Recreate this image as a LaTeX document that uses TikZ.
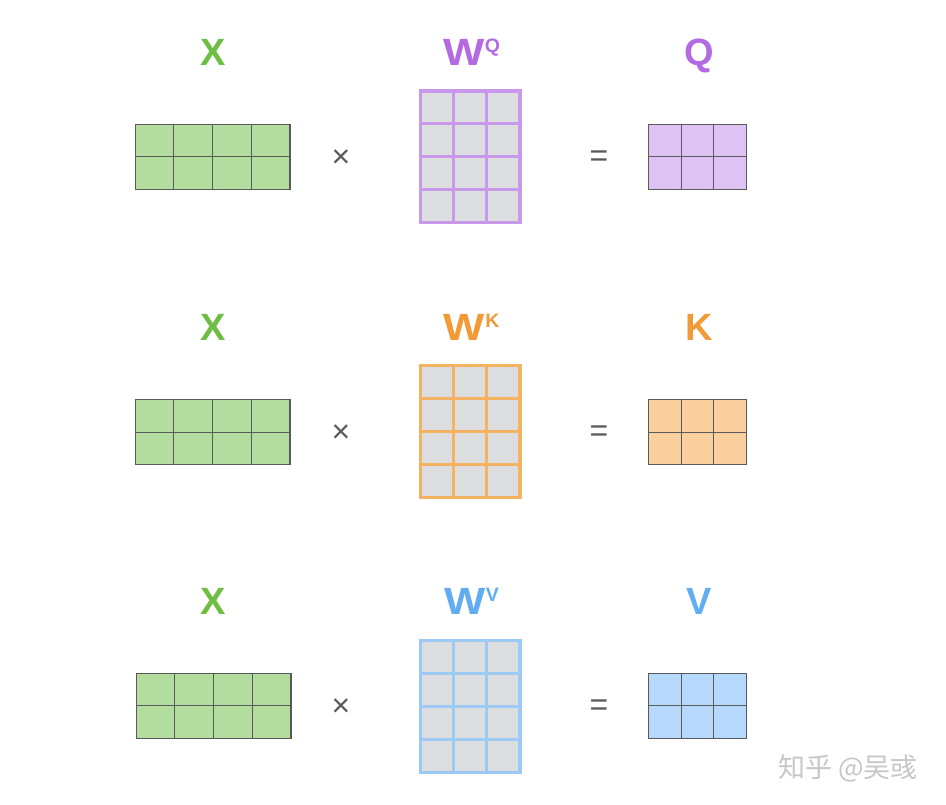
\documentclass[tikz,border=0pt]{standalone}
\usepackage{fontspec}
\setmainfont{Liberation Sans}
\newfontfamily\cjk{Noto Sans CJK SC}
\usepackage{tikz}
\definecolor{xlab}{HTML}{6EBE44}
\definecolor{xfill}{HTML}{B2DD9F}
\definecolor{qlab}{HTML}{B36AE2}
\definecolor{qline}{HTML}{C898EA}
\definecolor{qfill}{HTML}{DEC2F3}
\definecolor{klab}{HTML}{F29A38}
\definecolor{kline}{HTML}{F5B362}
\definecolor{kfill}{HTML}{FAD09E}
\definecolor{vlab}{HTML}{62ACF2}
\definecolor{vline}{HTML}{9CCAF4}
\definecolor{vfill}{HTML}{B6D8FA}
\definecolor{cellgray}{HTML}{DCDDDE}
\definecolor{dark}{HTML}{5A5A5A}
\newcommand{\wsup}[1]{\scalebox{1.15}[1]{W}\kern0.5pt\raisebox{13pt}{\fontsize{19.5}{20}\selectfont #1}}

\begin{document}
\begin{tikzpicture}[x=1pt, y=1pt,
	lab/.style={inner sep=0, anchor=base, font=\fontsize{38}{40}\selectfont\bfseries},
	op/.style={inner sep=0, text=dark, font=\fontsize{32}{34}\selectfont},
	mat/.style={inner sep=0, outer sep=0, draw=dark, line width=1pt},
	xmat/.style={mat, fill=xfill, minimum width=155pt, minimum height=65pt},
	wmat/.style={mat, fill=cellgray, line width=3pt, minimum width=100pt, minimum height=132pt},
	omat/.style={mat, minimum width=98pt, minimum height=65pt}]
	\useasboundingbox[fill=white] (0,0) rectangle (946,-805);
	% row Q
	\node[lab, text=xlab] at (213,-65.5) (xq) {X};
	\node[lab, text=qlab] at (471.5,-65.5) (wq) {\wsup{Q}};
	\node[lab, text=qlab] at (699,-65.5) (q) {Q};
	\node[xmat] at (212.5,-157) (xqm) {};
	\node[wmat, draw=qline] at (470,-157) (wqm) {};
	\node[omat, fill=qfill] at (697.5,-157) (qm) {};
	\node[op] at (341,-159) (tq) {×};
	\node[op] at (599,-159) (eq) {=};
	% row K
	\node[lab, text=xlab] at (213,-340.5) (xk) {X};
	\node[lab, text=klab] at (471.5,-340.5) (wk) {\wsup{K}};
	\node[lab, text=klab] at (699,-340.5) (k) {K};
	\node[xmat] at (212.5,-432) (xkm) {};
	\node[wmat, draw=kline] at (470,-431) (wkm) {};
	\node[omat, fill=kfill] at (697.5,-432) (km) {};
	\node[op] at (341,-434) (tk) {×};
	\node[op] at (599,-434) (ek) {=};
	% row V
	\node[lab, text=xlab] at (213,-614.5) (xv) {X};
	\node[lab, text=vlab] at (471.5,-614.5) (wv) {\wsup{V}};
	\node[lab, text=vlab] at (699,-614.5) (v) {V};
	\node[xmat] at (213.5,-705.5) (xvm) {};
	\node[wmat, draw=vline] at (470,-706) (wvm) {};
	\node[omat, fill=vfill] at (697.5,-705.5) (vm) {};
	\node[op] at (341,-708) (tv) {×};
	\node[op] at (599,-708) (ev) {=};
	% cells
	\draw[dark, line width=1pt, shift={(xqm.south west)}] (0,0) grid[xstep=38.75, ystep=32.5] (155,65);
	\draw[dark, line width=1pt, shift={(xkm.south west)}] (0,0) grid[xstep=38.75, ystep=32.5] (155,65);
	\draw[dark, line width=1pt, shift={(xvm.south west)}] (0,0) grid[xstep=38.75, ystep=32.5] (155,65);
	\draw[qline, line width=3pt, shift={(wqm.south west)}] (0,0) grid[xstep=33.33, ystep=33] (100,132);
	\draw[kline, line width=3pt, shift={(wkm.south west)}] (0,0) grid[xstep=33.33, ystep=33] (100,132);
	\draw[vline, line width=3pt, shift={(wvm.south west)}] (0,0) grid[xstep=33.33, ystep=33] (100,132);
	\draw[dark, line width=1pt, shift={(qm.south west)}] (0,0) grid[xstep=32.67, ystep=32.5] (98,65);
	\draw[dark, line width=1pt, shift={(km.south west)}] (0,0) grid[xstep=32.67, ystep=32.5] (98,65);
	\draw[dark, line width=1pt, shift={(vm.south west)}] (0,0) grid[xstep=32.67, ystep=32.5] (98,65);
	% watermark
	\node[inner sep=0, text=black!22, font=\cjk\fontsize{27}{29}\selectfont] at (848,-768) (mark) {知乎 @吴彧};
\end{tikzpicture}
\end{document}
